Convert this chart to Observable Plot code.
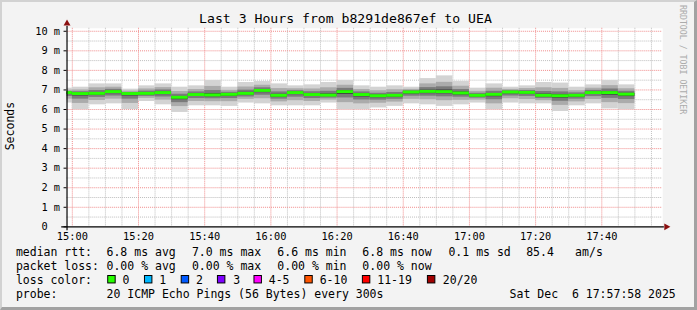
<!DOCTYPE html>
<html><head><meta charset="utf-8">
<script src="https://cdn.jsdelivr.net/npm/d3@7"></script>
<script src="https://cdn.jsdelivr.net/npm/@observablehq/plot@0.6"></script>
<style>
html,body{margin:0;padding:0;background:#fff;}
#chart{position:relative;width:697px;height:310px;box-sizing:border-box;background:#f3f3f3;
  border-top:2px solid #d2d2d2;border-left:2px solid #d2d2d2;border-right:3px solid #a2a2a2;border-bottom:3px solid #a2a2a2;}
#chart svg{position:absolute;left:-2px;top:-2px;}
</style></head><body><div id="chart"></div>
<script>
// ---- data ----
const barEnds = ["15:00","15:05","15:10","15:15","15:20","15:25","15:30","15:35","15:40","15:45","15:50","15:55",
  "16:00","16:05","16:10","16:15","16:20","16:25","16:30","16:35","16:40","16:45","16:50","16:55",
  "17:00","17:05","17:10","17:15","17:20","17:25","17:30","17:35","17:40","17:45","17:50"];
const median = [6.84,6.79,6.80,6.89,6.79,6.80,6.84,6.60,6.74,6.72,6.75,6.80,6.95,6.70,6.84,6.74,6.71,6.89,6.74,6.68,6.70,6.87,6.90,6.89,6.82,6.70,6.75,6.87,6.85,6.70,6.68,6.70,6.84,6.84,6.76];
const outerHi = [7.09,7.14,7.31,7.31,7.04,7.21,7.31,7.14,7.21,7.48,7.14,7.38,7.43,7.31,7.21,7.26,7.38,7.48,7.21,7.14,7.21,7.14,7.58,7.72,7.43,7.09,7.31,7.14,7.21,7.38,7.35,7.14,7.26,7.48,7.26];
const outerLo = [6.33,5.99,6.24,6.29,5.99,6.41,6.24,5.85,6.19,6.19,6.16,6.33,6.29,6.19,6.19,6.19,6.33,5.99,5.99,6.08,6.16,6.29,6.24,6.16,6.24,6.33,5.99,6.33,6.29,6.29,5.90,6.19,6.29,6.03,5.99];
const band2Hi = [6.99,7.00,7.11,7.14,6.94,7.05,7.12,6.92,7.02,7.18,6.98,7.15,7.24,7.07,7.06,7.05,7.11,7.24,7.02,6.96,7.01,7.03,7.31,7.39,7.19,6.93,7.09,7.03,7.07,7.11,7.08,6.96,7.09,7.22,7.06];
const band2Lo = [6.53,6.31,6.46,6.53,6.31,6.57,6.48,6.15,6.41,6.40,6.40,6.52,6.55,6.39,6.45,6.41,6.48,6.35,6.29,6.32,6.38,6.52,6.50,6.45,6.47,6.48,6.29,6.55,6.51,6.45,6.21,6.39,6.51,6.35,6.30];
const band3Hi = [6.92,6.91,6.97,7.03,6.87,6.94,7.00,6.78,6.90,6.97,6.88,6.99,7.11,6.90,6.96,6.91,6.93,7.08,6.90,6.83,6.87,6.96,7.12,7.16,7.02,6.83,6.93,6.96,6.97,6.92,6.90,6.85,6.98,7.05,6.93];
const band3Lo = [6.67,6.53,6.62,6.69,6.53,6.67,6.64,6.35,6.56,6.55,6.56,6.64,6.73,6.53,6.63,6.56,6.58,6.59,6.49,6.48,6.52,6.68,6.68,6.65,6.63,6.58,6.50,6.69,6.67,6.56,6.42,6.53,6.66,6.57,6.51];
const band4Hi = [6.87,6.84,6.87,6.94,6.82,6.85,6.90,6.67,6.80,6.82,6.80,6.88,7.01,6.78,6.89,6.81,6.80,6.97,6.80,6.74,6.77,6.91,6.99,7.00,6.90,6.75,6.82,6.91,6.90,6.79,6.77,6.76,6.89,6.92,6.83];
const band4Lo = [6.77,6.69,6.73,6.81,6.69,6.75,6.76,6.50,6.67,6.65,6.67,6.74,6.86,6.63,6.76,6.67,6.66,6.77,6.64,6.60,6.63,6.79,6.81,6.80,6.74,6.65,6.65,6.80,6.78,6.65,6.58,6.63,6.77,6.73,6.66];
const xTickLabels = ["15:00","15:20","15:40","16:00","16:20","16:40","17:00","17:20","17:40"];
const yTicks = [0,1,2,3,4,5,6,7,8,9,10];
const windowStart = "14:58:24", windowEnd = "17:58:24";

const titleText = "Last 3 Hours from b8291de867ef to UEA";
const yLabel = "Seconds";
const watermark = "RRDTOOL / TOBI OETIKER";
const rttLine = ["median rtt:","6.8 ms avg","7.0 ms max","6.6 ms min","6.8 ms now","0.1 ms sd","85.4","am/s"];
const lossLine = ["packet loss:","0.00 % avg","0.00 % max","0.00 % min","0.00 % now"];
const lossColorLabel = "loss color:";
const lossNames = ["0","1","2","3","4-5","6-10","11-19","20/20"];
const lossColors = ["#26ff00","#00b8ff","#0059ff","#7e00ff","#ff00ff","#ff5500","#ff0000","#a00000"];
const probeLine = ["probe:","20 ICMP Echo Pings (56 Bytes) every 300s","Sat Dec  6 17:57:58 2025"];

// ---- build ----
const parse = s => { const [h,m,sec] = s.split(":").map(Number); return new Date(Date.UTC(2025,11,6,h,m,sec||0)); };
const MIN = 60000;
const t0 = parse(windowStart), t1 = parse(windowEnd);
const bars = barEnds.map((e,i) => {
  const x2 = parse(e);
  return {x1: new Date(+x2 - 5*MIN), x2, med: median[i],
    oHi: outerHi[i], oLo: outerLo[i], b2Hi: band2Hi[i], b2Lo: band2Lo[i],
    b3Hi: band3Hi[i], b3Lo: band3Lo[i], b4Hi: band4Hi[i], b4Lo: band4Lo[i]};
});
const majorTimes = xTickLabels.map(parse);
const minorTimes = [];
for (let t = +parse("15:00"); t <= +t1; t += 5*MIN) if (!majorTimes.some(d => +d === t)) minorTimes.push(new Date(t));
const majorY = yTicks.filter(d => d > 0);
const minorY = yTicks.slice(0,-1).map(d => d + 0.5);
const medHalf = 0.075;

const chart = Plot.plot({
  width: 697, height: 310,
  marginLeft: 67, marginRight: 30, marginTop: 28, marginBottom: 82,
  style: "font-family:'DejaVu Sans Mono',monospace;font-size:10.4px;background:transparent;overflow:visible;white-space:pre;color:#000;",
  x: {type: "utc", domain: [t0, t1], ticks: majorTimes, tickFormat: d3.utcFormat("%H:%M"), tickSize: 0, tickPadding: 6, label: null},
  y: {domain: [0, 10.152], ticks: yTicks, tickFormat: d => d === 0 ? "0\u00a0\u00a0" : d + "\u00a0m", tickSize: 3, tickPadding: 4, label: null},
  marks: [
    Plot.frame({fill: "white", stroke: "none"}),
    Plot.ruleX(minorTimes, {stroke: "#bdbdbd", strokeDasharray: "1,1"}),
    Plot.ruleY(minorY, {stroke: "#bdbdbd", strokeDasharray: "1,1"}),
    Plot.ruleX(majorTimes, {stroke: "#f08a8a", strokeDasharray: "1,1"}),
    Plot.ruleY(majorY, {stroke: "#f08a8a", strokeDasharray: "1,1"}),
    Plot.rect(bars, {x1: "x1", x2: "x2", y1: "oLo", y2: "oHi", fill: "#d3d3d3", clip: true}),
    Plot.rect(bars, {x1: "x1", x2: "x2", y1: "b2Lo", y2: "b2Hi", fill: "#ababab", clip: true}),
    Plot.rect(bars, {x1: "x1", x2: "x2", y1: "b3Lo", y2: "b3Hi", fill: "#7a7a7a", clip: true}),
    Plot.rect(bars, {x1: "x1", x2: "x2", y1: "b4Lo", y2: "b4Hi", fill: "#404040", clip: true}),
    Plot.rect(bars, {x1: "x1", x2: "x2", y1: d => d.med - medHalf, y2: d => d.med + medHalf, fill: lossColors[0], clip: true}),
    Plot.ruleY([0], {x1: new Date(+t0 - 1.6*MIN), x2: new Date(+t1 + 0.5*MIN), stroke: "#000", strokeWidth: 1.2}),
    Plot.ruleX([t0], {y1: -0.2, y2: 10.25, stroke: "#000", strokeWidth: 1.2}),
    Plot.dot([t1], {x: d => new Date(+d + 1.1*MIN), y: 0, symbol: "triangle", rotate: 90, r: 2.6, fill: "#8b1010", stroke: "none"}),
    Plot.dot([t0], {x: d => d, y: 10.4, symbol: "triangle", r: 2.6, fill: "#8b1010", stroke: "none"})
  ]
});
document.getElementById("chart").appendChild(chart);

const svg = d3.select(chart);
const mono = "'DejaVu Sans Mono',monospace";
svg.append("text").attr("x", 348).attr("y", 23).attr("text-anchor", "middle")
  .attr("font-family", mono).attr("font-size", "13.25px").attr("fill", "#000").text(titleText);
svg.append("text").attr("transform", "translate(14,127) rotate(-90)").attr("text-anchor", "middle")
  .attr("font-family", mono).attr("font-size", "11.6px").attr("fill", "#000").text(yLabel);
svg.append("text").attr("transform", "translate(685,60) rotate(90)").attr("text-anchor", "middle")
  .attr("font-family", mono).attr("font-size", "8.3px").attr("fill", "#ababab").text(watermark);

const lg = svg.append("g").attr("font-family", mono).attr("font-size", "11.6px").attr("fill", "#000")
  .attr("text-anchor", "start").style("white-space", "pre");
const rowY = [258.3, 272.2, 286.1, 300];
const rttX = [16, 107.3, 193.3, 279.3, 365, 451.7, 530, 579.3];
rttLine.forEach((s,i) => lg.append("text").attr("x", rttX[i]).attr("y", rowY[0]).text(s));
lossLine.forEach((s,i) => lg.append("text").attr("x", rttX[i]).attr("y", rowY[1]).text(s));
lg.append("text").attr("x", 16).attr("y", rowY[2]).text(lossColorLabel);
const boxX = [108.5, 145.5, 182.5, 219, 255.8, 307, 365, 430.5];
const labX = [123.3, 160.5, 197.5, 235, 270.7, 322, 380, 446];
lossNames.forEach((s,i) => {
  lg.append("rect").attr("x", boxX[i]).attr("y", 277.5).attr("width", 7.5).attr("height", 7.5)
    .attr("fill", lossColors[i]).attr("stroke", "#000").attr("stroke-width", 1);
  lg.append("text").attr("x", labX[i]).attr("y", rowY[2]).text(s);
});
const probeX = [16, 107.3, 513.3];
probeLine.forEach((s,i) => lg.append("text").attr("x", probeX[i]).attr("y", rowY[3]).text(s));
</script></body></html>
